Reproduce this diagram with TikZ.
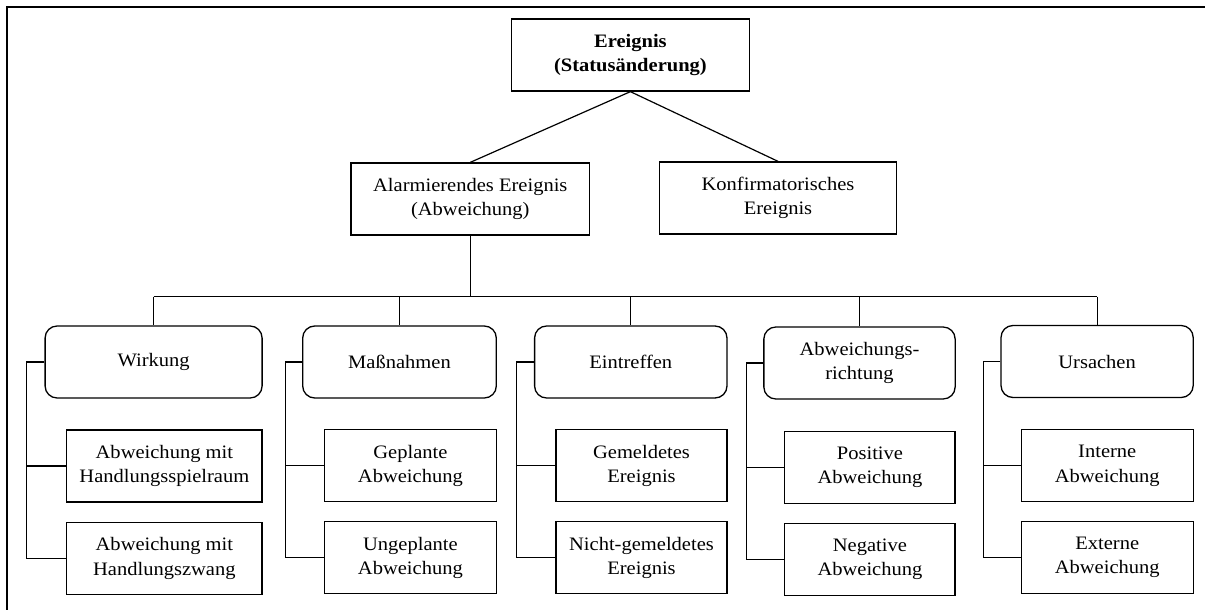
\documentclass[tikz,border=0pt]{standalone}
\usepackage{fontspec}
\setmainfont{Liberation Serif}[FakeStretch=1.08]
\begin{document}
\begin{tikzpicture}[x=1pt,y=-1pt,
  every node/.style={font=\fontsize{19}{24.3}\selectfont, align=center, inner sep=0pt},
  box/.style={draw, line width=1.3pt, rectangle, minimum height=72pt},
  catbox/.style={box, rounded corners=12pt},
  link/.style={line width=1.2pt}]
\useasboundingbox (0,0) rectangle (1205,610);
% frame
\draw[line width=1.4pt] (6.9,610) -- (6.9,7) -- (1205,7);

% upper levels
\node[box, minimum width=237.6pt, font=\fontsize{19}{24.3}\selectfont\bfseries] (top) at (630.4,55) {Ereignis\\(Statusänderung)};
\node[box, minimum width=238.8pt] (alarm) at (470.3,199) {Alarmierendes Ereignis\\(Abweichung)};
\node[box, minimum width=237.3pt] (konf) at (778,198) {Konfirmatorisches\\Ereignis};

% categories
\node[catbox, minimum width=217pt]   (W) at (153.6,362) {Wirkung};
\node[catbox, minimum width=193.6pt] (M) at (399.5,362) {Maßnahmen};
\node[catbox, minimum width=192.4pt] (E) at (630.8,362) {Eintreffen};
\node[catbox, minimum width=191.3pt] (A) at (859.5,363) {Abweichungs-\\richtung};
\node[catbox, minimum width=192.2pt] (U) at (1097.1,361.5) {Ursachen};

% sub boxes
\node[box, minimum width=195.5pt] (W1) at (164.35,466) {Abweichung mit\\Handlungsspielraum};
\node[box, minimum width=195.5pt] (W2) at (164.35,558.5) {Abweichung mit\\Handlungszwang};
\node[box, minimum width=171.8pt] (M1) at (410.4,465.7) {Geplante\\Abweichung};
\node[box, minimum width=171.8pt] (M2) at (410.4,557.7) {Ungeplante\\Abweichung};
\node[box, minimum width=171pt]   (E1) at (641.5,465.7) {Gemeldetes\\Ereignis};
\node[box, minimum width=171pt]   (E2) at (641.5,557.7) {Nicht-gemeldetes\\Ereignis};
\node[box, minimum width=170.3pt] (A1) at (869.95,467.5) {Positive\\Abweichung};
\node[box, minimum width=170.3pt] (A2) at (869.95,559.5) {Negative\\Abweichung};
\node[box, minimum width=171.9pt] (U1) at (1107.25,465.8) {Interne\\Abweichung};
\node[box, minimum width=171.9pt] (U2) at (1107.25,557.5) {Externe\\Abweichung};

% top connectors
\draw[link] (top.south) -- (alarm.north);
\draw[link] (top.south) -- (konf.north);

% bus
\coordinate (bus) at (470.3,296.5);
\draw[link] (alarm.south) -- (bus);
\draw[link] (W.north |- bus) -- (U.north |- bus);
\foreach \c in {W,M,E,A,U}
  \draw[link] (\c.north |- bus) -- (\c.north);

% brackets
\foreach \c/\bx in {W/26.8, M/285.1, E/516.6, A/746.2, U/983.4} {
  \coordinate (\c b) at (\bx,0);
  \draw[link] (\c.west) -- (\c b |- \c.west) -- (\c b |- \c2.west) -- (\c2.west);
  \draw[link] (\c b |- \c1.west) -- (\c1.west);
}
\end{tikzpicture}
\end{document}
